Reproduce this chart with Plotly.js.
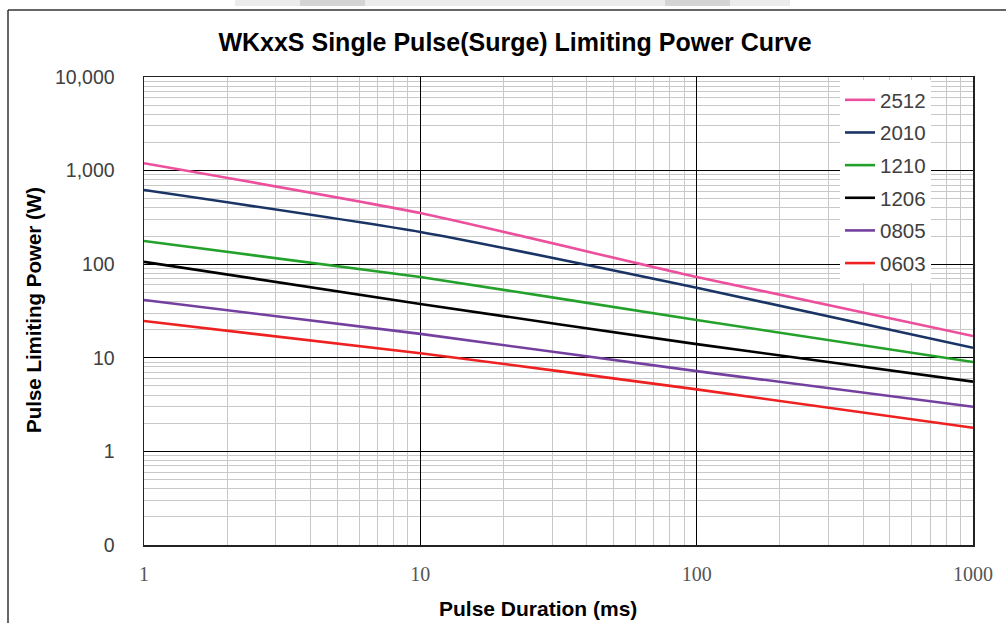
<!DOCTYPE html>
<html>
<head>
<meta charset="utf-8">
<script src="https://cdn.plot.ly/plotly-3.0.1.min.js"></script>
<style>
html,body{margin:0;padding:0;background:#fff;}
#chart{width:1006px;height:623px;}
</style>
</head>
<body>
<div id="chart"></div>
<script>
// Data
const duration = [1, 10, 100, 1000];
const seriesNames = ["2512", "2010", "1210", "1206", "0805", "0603"];
const p2512 = [1200, 352, 73, 17.1];
const p2010 = [620, 221, 56, 12.8];
const p1210 = [177, 73, 25.3, 9.0];
const p1206 = [106, 37.6, 14.0, 5.56];
const p0805 = [41.5, 18, 7.2, 3.0];
const p0603 = [24.7, 11.2, 4.6, 1.79];
const seriesColors = ["#ec4f9c", "#1b3466", "#23a12a", "#000000", "#7440a0", "#ee2020"];

const yTickVals = [0.1, 1, 10, 100, 1000, 10000];
const yTickText = ["0", "1", "10", "100", "1,000", "10,000"];
const xTickVals = [1, 10, 100, 1000];
const xTickText = ["1", "10", "100", "1000"];

function minorVals(lo, hi) {
  const v = [];
  for (let d = lo; d < hi; d *= 10) for (let k = 2; k <= 9; k++) v.push(d * k);
  return v;
}

const allSeries = [p2512, p2010, p1210, p1206, p0805, p0603];
const traces = allSeries.map((vals, i) => ({
  x: duration, y: vals, type: "scatter", mode: "lines",
  name: seriesNames[i], legendgroup: "g" + i,
  line: {color: seriesColors[i], width: 2.6, shape: "spline", smoothing: 0.5}
}));

const W = 1006, H = 623;
const SANS = "Liberation Sans, Arial, sans-serif";
const layout = {
  width: W, height: H,
  margin: {l: 144, r: 33, t: 77, b: 78},
  paper_bgcolor: "#ffffff", plot_bgcolor: "#ffffff",
  showlegend: true,
  title: {
    text: "WKxxS Single Pulse(Surge) Limiting Power Curve",
    font: {family: SANS, size: 25, color: "#000", weight: "bold"},
    x: 515 / W, xanchor: "center", xref: "container",
    y: 1 - 42 / H, yanchor: "middle", yref: "container"
  },
  xaxis: {
    type: "log", range: [0, 3],
    tickvals: xTickVals, ticktext: xTickText,
    tickfont: {family: "Liberation Serif, Times New Roman, serif", size: 20, color: "#555"},
    ticks: "", ticklabelstandoff: 10,
    showgrid: true, gridcolor: "#000", gridwidth: 1,
    minor: {tickvals: minorVals(1, 1000), showgrid: true, gridcolor: "#c8c8c8", gridwidth: 1, ticks: ""},
    showline: true, linecolor: "#222", linewidth: 1.5, mirror: true,
    zeroline: false
  },
  yaxis: {
    type: "log", range: [-1, 4],
    tickvals: yTickVals, ticktext: yTickText,
    tickfont: {family: SANS, size: 19.5, color: "#404040"},
    ticks: "", ticklabelstandoff: 24,
    showgrid: true, gridcolor: "#000", gridwidth: 1,
    minor: {tickvals: minorVals(0.1, 10000), showgrid: true, gridcolor: "#c8c8c8", gridwidth: 1, ticks: ""},
    showline: true, linecolor: "#222", linewidth: 1.5, mirror: true,
    zeroline: false
  },
  legend: {
    x: (840 - 144) / 829, xanchor: "left", y: 1 - 3 / 468, yanchor: "top",
    bgcolor: "#ffffff", borderwidth: 0,
    font: {family: SANS, size: 20.5, color: "#404040"},
    tracegroupgap: 3, itemwidth: 30
  },
  annotations: [
    {text: "<b>Pulse Limiting Power (W)</b>", xref: "paper", yref: "paper",
     x: (33 - 144) / 829, y: (545 - 310) / 468, xanchor: "center", yanchor: "middle", textangle: -90,
     showarrow: false, font: {family: SANS, size: 20.5, color: "#000"}},
    {text: "<b>Pulse Duration (ms)</b>", xref: "paper", yref: "paper",
     x: (538 - 144) / 829, y: -(608 - 545) / 468, xanchor: "center", yanchor: "middle",
     showarrow: false, font: {family: SANS, size: 21, color: "#000"}}
  ],
  shapes: [
    // outer frame lines (top and left)
    {type: "line", xref: "paper", yref: "paper", x0: (8 - 144) / 829, x1: (1010 - 144) / 829,
     y0: (545 - 10) / 468, y1: (545 - 10) / 468, line: {color: "#333", width: 1.5}},
    {type: "line", xref: "paper", yref: "paper", x0: (8 - 144) / 829, x1: (8 - 144) / 829,
     y0: (545 - 10) / 468, y1: (545 - 630) / 468, line: {color: "#333", width: 1.5}},
    // faint header remnants at top
    {type: "rect", xref: "paper", yref: "paper", x0: (235 - 144) / 829, x1: (790 - 144) / 829,
     y0: (545 - 6) / 468, y1: (545 + 2) / 468, fillcolor: "#ececec", line: {width: 0}, layer: "below"},
    {type: "rect", xref: "paper", yref: "paper", x0: (300 - 144) / 829, x1: (365 - 144) / 829,
     y0: (545 - 6) / 468, y1: (545 + 2) / 468, fillcolor: "#d4d4d4", line: {width: 0}, layer: "below"},
    {type: "rect", xref: "paper", yref: "paper", x0: (665 - 144) / 829, x1: (730 - 144) / 829,
     y0: (545 - 6) / 468, y1: (545 + 2) / 468, fillcolor: "#d4d4d4", line: {width: 0}, layer: "below"}
  ]
};

Plotly.newPlot("chart", traces, layout, {displayModeBar: false, staticPlot: true});
</script>
</body>
</html>
